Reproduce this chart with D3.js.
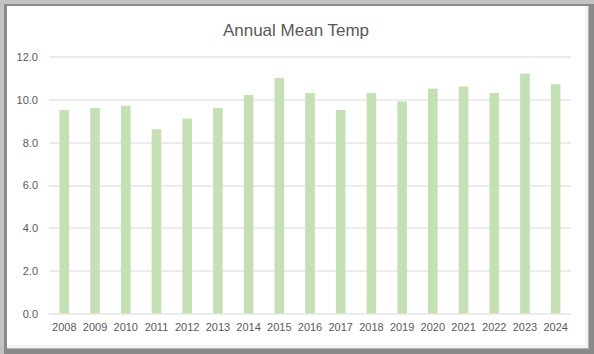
<html>
<head>
<meta charset="utf-8">
<title>Annual Mean Temp</title>
<style>
  body { margin: 0; background: #fff; }
  svg { display: block; }
  .tick text { font-family: "Liberation Sans", Arial, sans-serif; font-size: 11px; fill: #595959; }
</style>
<script src="https://d3js.org/d3.v7.min.js"></script>
</head>
<body>
<svg width="594" height="354"></svg>
<script>
var years = ["2008","2009","2010","2011","2012","2013","2014","2015","2016","2017","2018","2019","2020","2021","2022","2023","2024"];
var temps = [9.5, 9.6, 9.7, 8.6, 9.1, 9.6, 10.2, 11.0, 10.3, 9.5, 10.3, 9.9, 10.5, 10.6, 10.3, 11.2, 10.7];
var yTicks = [0, 2, 4, 6, 8, 10, 12];

var svg = d3.select("svg"),
    W = 594, H = 354,
    margin = {top: 56.5, right: 23, bottom: 40.5, left: 49},
    width = W - margin.left - margin.right,
    height = H - margin.top - margin.bottom;

// frame
svg.append("rect").attr("x", 0).attr("y", 0).attr("width", W).attr("height", H).attr("fill", "#c3c3c3");
svg.append("rect").attr("x", 4).attr("y", 4).attr("width", W - 4).attr("height", H - 4).attr("fill", "#8a8a8a");
svg.append("rect").attr("x", 7).attr("y", 6).attr("width", W - 12).attr("height", H - 11).attr("fill", "#b5b5b5");
svg.append("rect").attr("x", 7).attr("y", 6).attr("width", W - 13).attr("height", H - 12).attr("fill", "#f2f2f2");
svg.append("rect").attr("x", 7).attr("y", 6).attr("width", W - 16).attr("height", H - 15).attr("fill", "#ffffff");

var g = svg.append("g").attr("transform", `translate(${margin.left},${margin.top})`);

var x = d3.scaleBand().domain(years).range([0, width]).paddingInner(0.687).paddingOuter(0.343);
var y = d3.scaleLinear().domain([0, 12]).range([height, 0]);

// gridlines
g.append("g").selectAll("line")
  .data(yTicks)
  .enter().append("line")
    .attr("x1", 0).attr("x2", width)
    .attr("y1", d => Math.round(y(d)) + 0.5).attr("y2", d => Math.round(y(d)) + 0.5)
    .attr("stroke", "#d9d9d9").attr("stroke-width", 1);

// bars
g.selectAll(".bar")
  .data(temps)
  .enter().append("rect")
    .attr("class", "bar")
    .attr("x", (d, i) => x(years[i]))
    .attr("y", d => y(d))
    .attr("width", x.bandwidth())
    .attr("height", d => y(0) - y(d))
    .attr("fill", "#c5e0b4");

// axes
var yAxis = g.append("g")
  .call(d3.axisLeft(y).tickValues(yTicks).tickFormat(d3.format(".1f")).tickSize(0).tickPadding(11));
yAxis.select(".domain").remove();
yAxis.selectAll("text").attr("dy", "0.35em");

var xAxis = g.append("g")
  .attr("transform", `translate(0,${height})`)
  .call(d3.axisBottom(x).tickSize(0).tickPadding(10));
xAxis.select(".domain").remove();

// title
svg.append("text")
  .attr("x", 296).attr("y", 36)
  .attr("text-anchor", "middle")
  .style("font-family", "\"Liberation Sans\", Arial, sans-serif")
  .style("font-size", "17px")
  .style("fill", "#595959")
  .text("Annual Mean Temp");
</script>
</body>
</html>
